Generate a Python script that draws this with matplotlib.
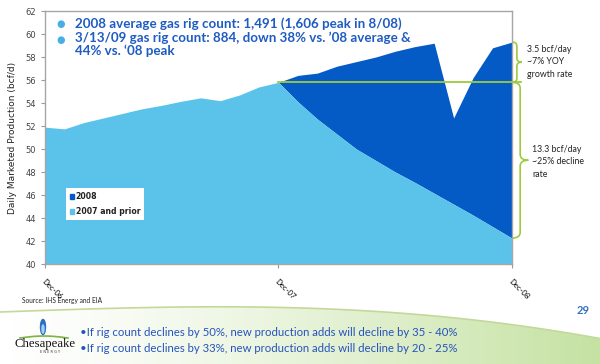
import numpy as np
import matplotlib
matplotlib.use("Agg")
import matplotlib.pyplot as plt
from matplotlib.path import Path
from matplotlib.patches import PathPatch, Polygon, Ellipse, Patch

# ---------------------------------------------------------------------------- #
# Data (bcf/d), monthly from Dec-06 to Dec-08

months = list(range(25))
tick_pos = [0, 12, 24]
tick_labels = ["Dec-06", "Dec-07", "Dec-08"]

# base production 2007 and prior (Dec-06 .. Dec-07, then decline to Dec-08)
prior_2007 = [51.9, 51.75, 52.3, 52.7, 53.1, 53.5, 53.8, 54.15, 54.45, 54.2, 54.7, 55.4, 55.8]
prior_decline = [54.1, 52.6, 51.3, 50.0, 49.0, 48.0, 47.1, 46.15, 45.2, 44.25, 43.25, 42.25]
# total incl. 2008 adds (Dec-07 .. Dec-08)
total_2008 = [55.8, 56.4, 56.6, 57.2, 57.6, 58.0, 58.5, 58.9, 59.2, 52.7, 56.2, 58.8, 59.3]

light = prior_2007 + prior_decline
months_08 = months[12:]
light_08 = light[12:]

LIGHT = "#5bc2ea"
DARK = "#055bc6"
GREEN = "#9ccc3c"
TXT_BLUE = "#1e5bc2"
NARROW = ["Lato", "DejaVu Sans"]

fig = plt.figure(figsize=(6, 3.64), dpi=100)

# ---------------------------------------------------------------------------- #
# bottom green swoosh background
bg = fig.add_axes([0, 0, 1, 1], zorder=-5)
bg.set_xlim(0, 600)
bg.set_ylim(364, 0)
bg.axis("off")
xs = np.linspace(0, 600, 60)
ys = 312 - 8 * np.sin(np.pi * xs / 700) + 30 * (xs / 600) ** 3
grad = np.zeros((10, 200, 4))
grad[..., 0] = 0.72
grad[..., 1] = 0.86
grad[..., 2] = 0.55
grad[..., 3] = np.linspace(0.0, 0.85, 200)[None, :] ** 1.3
im = bg.imshow(grad, extent=[0, 600, 364, 290], aspect="auto", zorder=-5)
poly = Polygon(np.column_stack([np.r_[xs, 600, 0], np.r_[ys, 364, 364]]),
               closed=True, transform=bg.transData, facecolor="none", edgecolor="none")
bg.add_patch(poly)
im.set_clip_path(poly)
bg.plot(xs, ys, color="#c3d99a", lw=1.2)

# logo
bg.add_patch(Ellipse((43, 327), 5, 15, color="#2d6fc0"))
bg.add_patch(Ellipse((43, 329), 2, 8, color="#9fd3f0"))
bg.plot(np.linspace(20, 68, 20), 338 - 2 * np.sin(np.linspace(0, np.pi, 20)), color="#7cb342", lw=1.2)
bg.text(45, 344, "Chesapeake", family="Liberation Serif", fontsize=9.2, ha="center", va="center", color="#111111")
bg.text(50, 352, "E N E R G Y", fontsize=2.5, ha="center", va="center", color="#333333")

bg.text(22, 301, "Source: IHS Energy and EIA", fontsize=4.8, family=NARROW, va="center", color="#222222")
bg.text(583, 310, "29", fontsize=8, family=NARROW, weight="bold", va="center", ha="center", color="#3572c0")
bg.text(80, 333, "\u2022If rig count declines by 50%, new production adds will decline by 35 - 40%",
        fontsize=8.2, family=NARROW, va="center", color="#2553bd")
bg.text(80, 349, "\u2022If rig count declines by 33%, new production adds will decline by 20 - 25%",
        fontsize=8.2, family=NARROW, va="center", color="#2553bd")

# ---------------------------------------------------------------------------- #
# main chart
ax = fig.add_axes([45 / 600, 1 - 264 / 364, 467 / 600, 253 / 364])
ax.fill_between(months_08, light_08, total_2008, color=DARK, lw=0)
ax.fill_between(months, 40, light, color=LIGHT, lw=0)
ax.set_xlim(0, 24)
ax.set_ylim(40, 62)
ax.set_yticks(range(40, 63, 2))
ax.set_xticks(tick_pos)
ax.set_xticklabels(tick_labels, rotation=-45, ha="left", va="top", fontsize=5.5,
                   family=NARROW, rotation_mode="anchor")
ax.tick_params(axis="y", labelsize=6, labelcolor="#444444", length=3, color="#999999", width=0.8)
ax.tick_params(axis="x", length=3, color="#999999", width=0.8, pad=7)
for sp in ax.spines.values():
    sp.set_color("#a6a6a6")
    sp.set_linewidth(1)
ax.set_ylabel("Daily Marketed Production (bcf/d)", fontsize=6.5, color="#222222", labelpad=6)

# green reference line & braces
base = total_2008[0]
ax.plot([12, 24.45], [base, base], color=GREEN, lw=1.3, clip_on=False, zorder=5)


def brace(x0, y_top, y_bot, w, r):
    mid = (y_top + y_bot) / 2
    verts = [(x0, y_top), (x0 + w, y_top), (x0 + w, y_top - r),
             (x0 + w, mid + r),
             (x0 + w, mid), (x0 + 2 * w, mid),
             (x0 + w, mid), (x0 + w, mid - r),
             (x0 + w, y_bot + r),
             (x0 + w, y_bot), (x0, y_bot)]
    codes = [Path.MOVETO, Path.CURVE3, Path.CURVE3, Path.LINETO,
             Path.CURVE3, Path.CURVE3, Path.CURVE3, Path.CURVE3,
             Path.LINETO, Path.CURVE3, Path.CURVE3]
    ax.add_patch(PathPatch(Path(verts, codes), fill=False, edgecolor=GREEN, lw=1.2, clip_on=False))


brace(24.0, total_2008[-1], base, 0.25, 0.35)
brace(24.0, base, light[-1], 0.42, 0.5)

ax.text(24.75, 57.6, "3.5 bcf/day\n~7% YOY\ngrowth rate", fontsize=6.3, family=NARROW,
        va="center", ha="left", linespacing=1.5, color="#222222")
ax.text(25.05, 48.9, "13.3 bcf/day\n~25% decline\nrate", fontsize=6.3, family=NARROW,
        va="center", ha="left", linespacing=1.5, color="#222222")

# bullets at top
ax.text(0.6, 60.9, "\u25cf", fontsize=7, color="#4aaee6", va="center")
ax.text(0.6, 59.5, "\u25cf", fontsize=7, color="#4aaee6", va="center")
ax.text(1.55, 60.9, "2008 average gas rig count: 1,491 (1,606 peak in 8/08)",
        fontsize=9.6, family=NARROW, weight="bold", color=TXT_BLUE, va="center")
ax.text(1.55, 60.2, "3/13/09 gas rig count: 884, down 38% vs. \u201908 average &\n44% vs. \u201808 peak",
        fontsize=9.6, family=NARROW, weight="bold", color=TXT_BLUE, va="top",
        linespacing=1.0)

handles = [Patch(color=DARK, label="2008"), Patch(color=LIGHT, label="2007 and prior")]
leg = ax.legend(handles=handles, loc="upper left", bbox_to_anchor=(0.036, 0.315),
                frameon=True, fancybox=False, fontsize=5.6, handlelength=0.6, handleheight=0.6,
                handletextpad=0.2, labelspacing=0.75, borderpad=0.5)
leg.get_frame().set_edgecolor("none")
leg.get_frame().set_facecolor("white")
leg.get_frame().set_alpha(1)
for t in leg.get_texts():
    t.set_fontweight("bold")
    t.set_color("#222222")

fig.savefig("out.png", dpi=100)
